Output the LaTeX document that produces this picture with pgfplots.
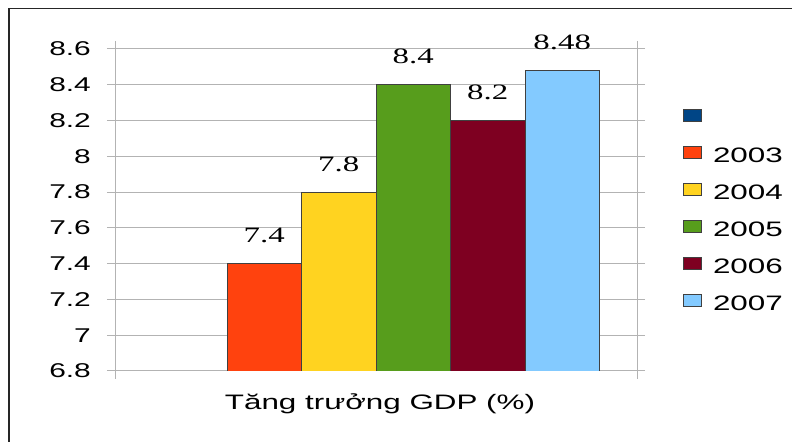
\documentclass[border=0pt]{standalone}
\usepackage{fontspec}
\setmainfont{Liberation Sans}[FakeStretch=1.5]
\newfontfamily\valfont{Liberation Serif}[FakeStretch=1.5]
\usepackage{pgfplots}
\pgfplotsset{compat=1.18}
\definecolor{gridgray}{RGB}{179,179,179}
\definecolor{cA}{RGB}{0,69,134}
\definecolor{cB}{RGB}{255,66,14}
\definecolor{cC}{RGB}{255,211,32}
\definecolor{cD}{RGB}{87,157,28}
\definecolor{cE}{RGB}{126,0,33}
\definecolor{cF}{RGB}{131,202,255}

\begin{document}
\begin{tikzpicture}
\path[use as bounding box] (0,0) rectangle (792bp,442bp);
% outer frame
\draw[black!85, line width=1.3bp] (9bp,-5bp) -- (9bp,433.5bp) -- (800bp,433.5bp);
\begin{axis}[
  at={(115bp,71bp)}, anchor=south west,
  scale only axis, width=522bp, height=322bp,
  ybar=0pt, bar width=74.5bp,
  clip mode=individual,
  /pgf/number format/assume math mode=true,
  xmin=-1, xmax=1, xtick={-1,1}, xticklabels={,},
  ymin=6.8, ymax=8.6,
  ytick={6.8,7,7.2,7.4,7.6,7.8,8,8.2,8.4,8.6},
  yticklabels={6.8,7,7.2,7.4,7.6,7.8,8,8.2,8.4,8.6},
  yticklabel style={font=\fontsize{20}{24}\selectfont, inner sep=0pt, xshift=-16bp},
  tick align=outside, major tick length=8bp,
  tick style={gridgray, line width=1bp},
  ymajorgrids, grid style={gridgray, line width=1bp},
  axis line style={gridgray, line width=1bp},
  legend image code/.code={\draw[#1] (0bp,-3.5bp) rectangle (18bp,8.5bp);},
  legend cell align=left,
  legend style={draw=none, fill=none, at={(rel axis cs:1,1)}, anchor=north west,
    xshift=46bp, yshift=-60bp, inner sep=0pt, row sep=20.6bp,
    font=\fontsize{21}{25}\selectfont,
    nodes={inner sep=0pt, text height=15bp, text depth=0pt},
    /tikz/every odd column/.append style={column sep=11bp}},
  every node near coord/.append style={font=\valfont\fontsize{22}{26}\selectfont, anchor=base, yshift=21bp, inner sep=0pt},
]
\addplot[fill=cA, draw=black!75, line width=0.8bp] coordinates {(0,0)};
\addlegendentry{}
\addplot[fill=cB, draw=black!75, line width=0.8bp, nodes near coords] coordinates {(0,7.4)};
\addlegendentry{2003}
\addplot[fill=cC, draw=black!75, line width=0.8bp, nodes near coords] coordinates {(0,7.8)};
\addlegendentry{2004}
\addplot[fill=cD, draw=black!75, line width=0.8bp, nodes near coords] coordinates {(0,8.4)};
\addlegendentry{2005}
\addplot[fill=cE, draw=black!75, line width=0.8bp, nodes near coords] coordinates {(0,8.2)};
\addlegendentry{2006}
\addplot[fill=cF, draw=black!75, line width=0.8bp, nodes near coords] coordinates {(0,8.48)};
\addlegendentry{2007}
\node[anchor=base, font=\fontsize{21}{25}\selectfont, xshift=4bp, yshift=-39bp] at (rel axis cs:0.5,0) {Tăng trưởng GDP (\%)};
\end{axis}
\end{tikzpicture}
\end{document}
